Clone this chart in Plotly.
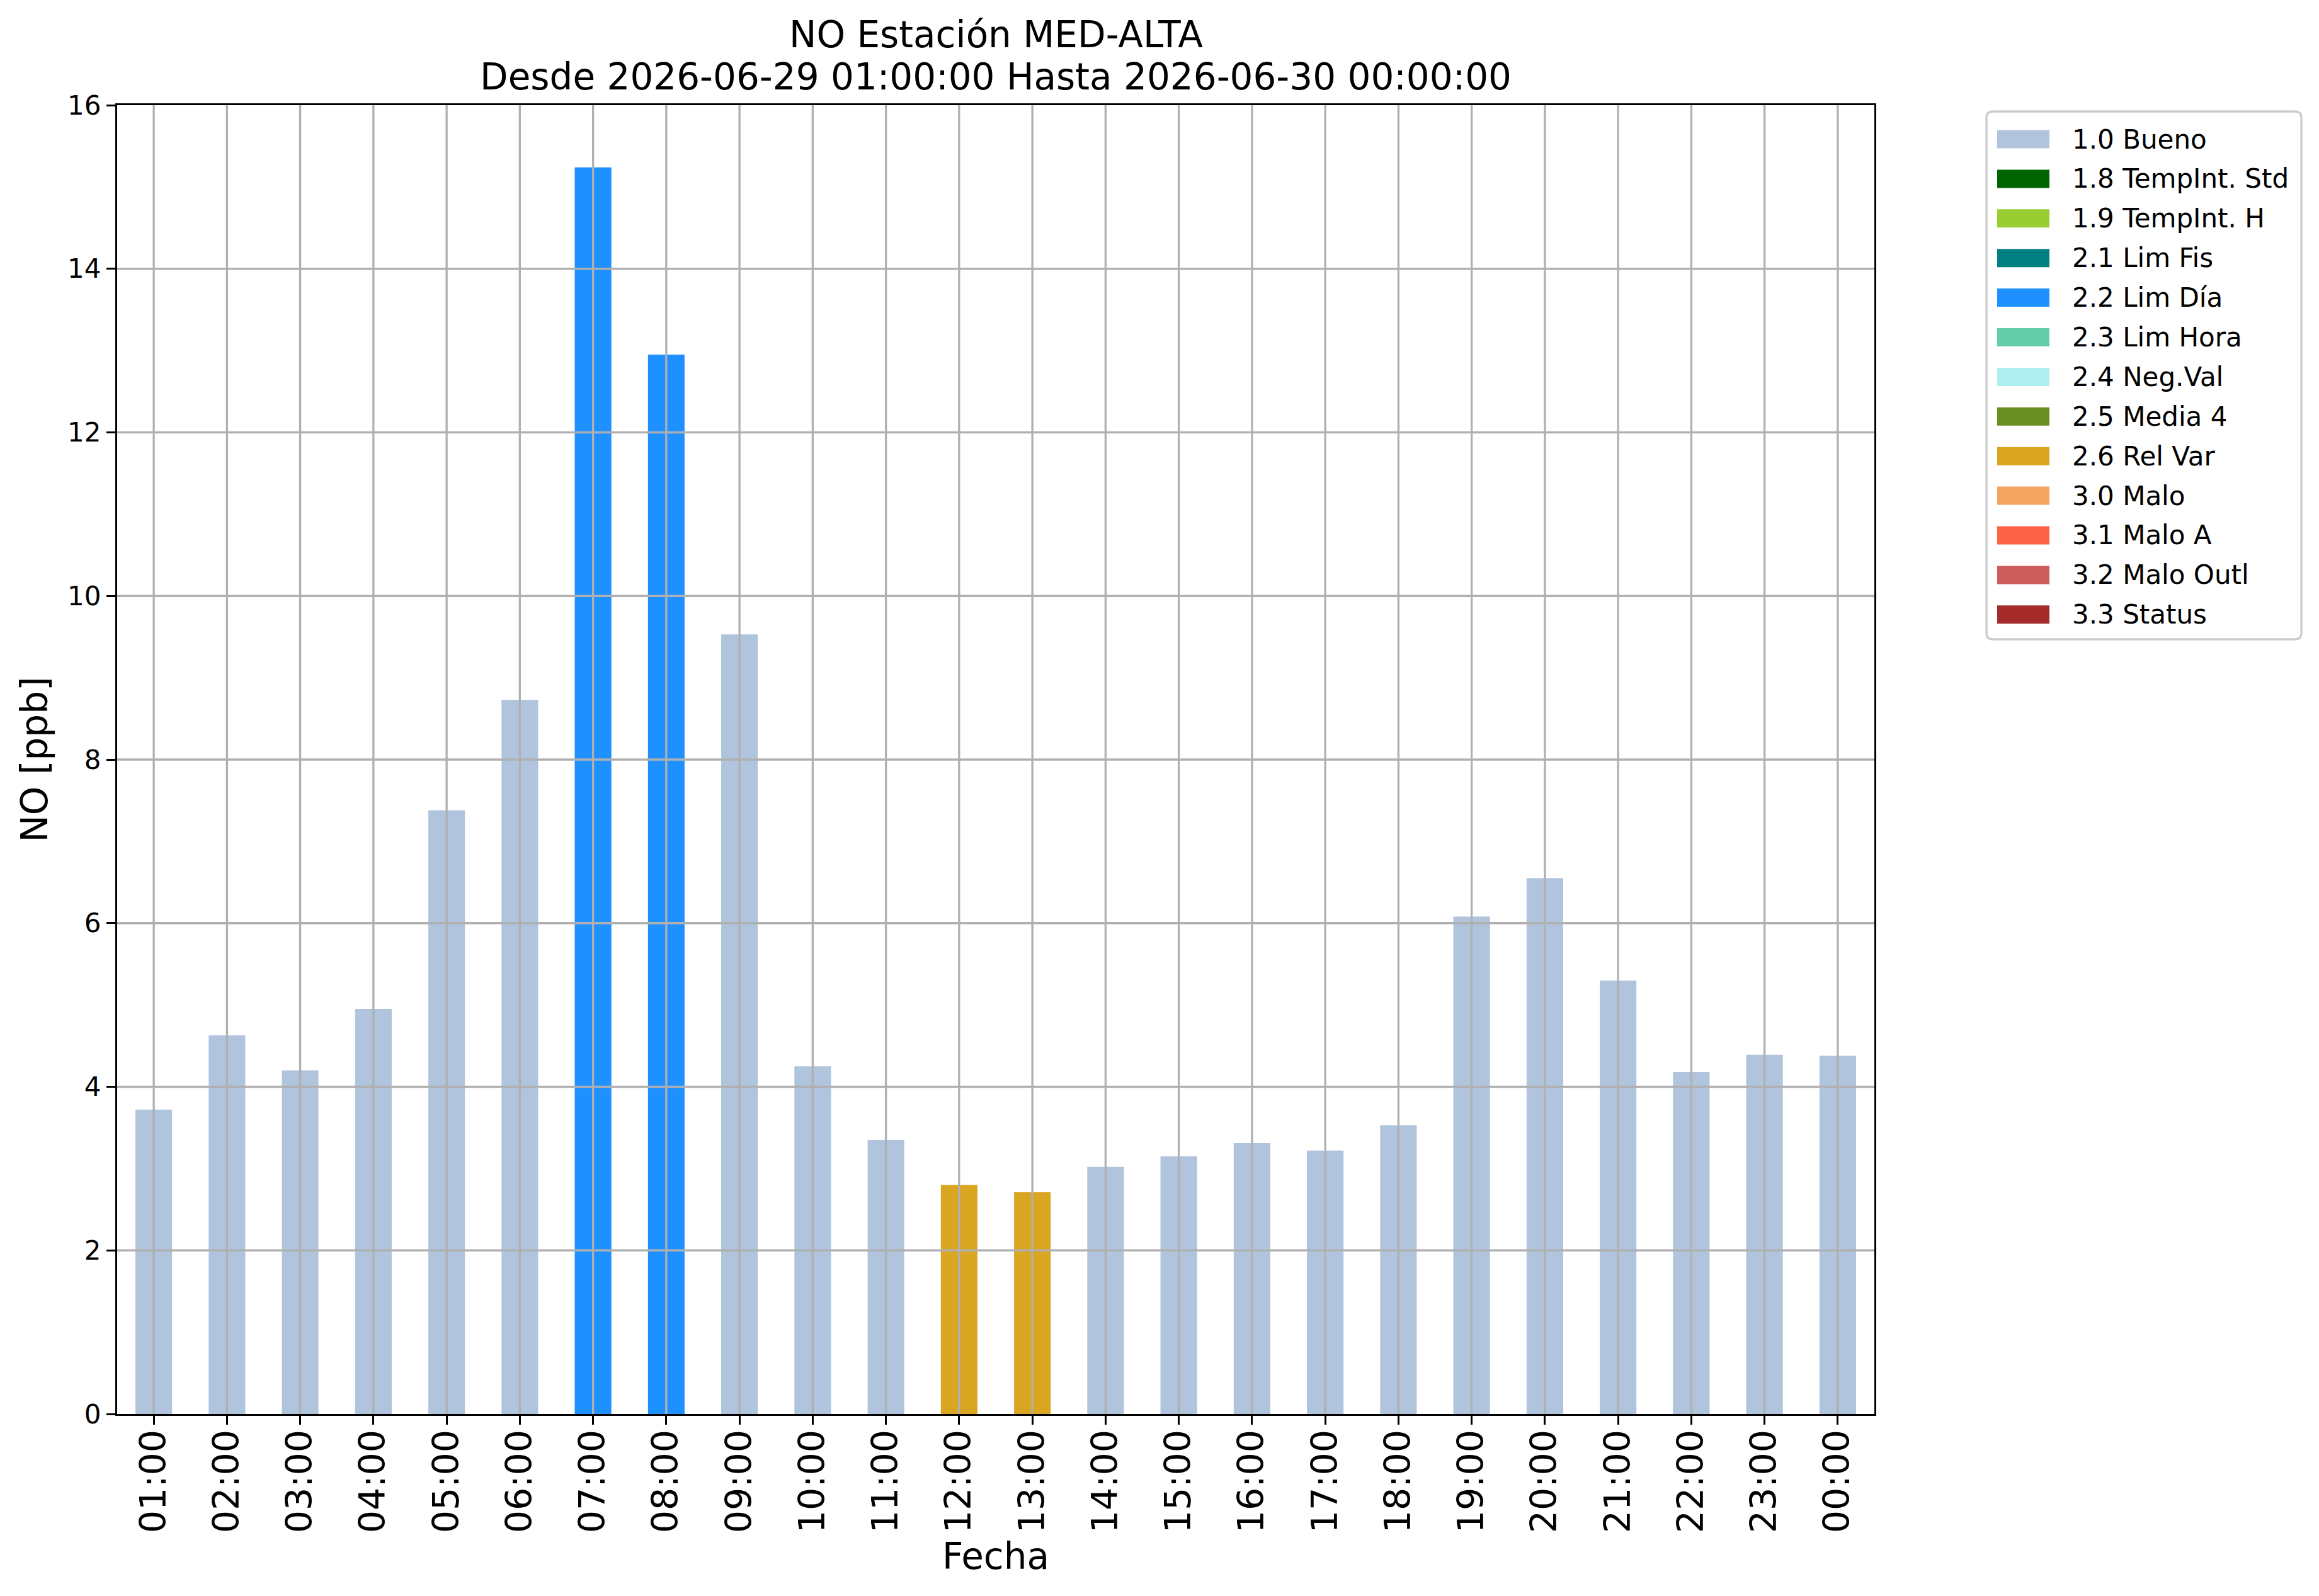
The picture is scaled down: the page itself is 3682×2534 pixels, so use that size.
import plotly.graph_objects as go

# hourly NO values, 2026-06-29 01:00 .. 2026-06-30 00:00
hours = ["01:00", "02:00", "03:00", "04:00", "05:00", "06:00", "07:00", "08:00",
         "09:00", "10:00", "11:00", "12:00", "13:00", "14:00", "15:00", "16:00",
         "17:00", "18:00", "19:00", "20:00", "21:00", "22:00", "23:00", "00:00"]
values = [3.72, 4.63, 4.20, 4.95, 7.38, 8.73, 15.24, 12.95,
          9.53, 4.25, 3.35, 2.80, 2.71, 3.02, 3.15, 3.31,
          3.22, 3.53, 6.08, 6.55, 5.30, 4.18, 4.39, 4.38]
flags = ["1.0 Bueno"] * 6 + ["2.2 Lim Día"] * 2 + ["1.0 Bueno"] * 3 + \
        ["2.6 Rel Var"] * 2 + ["1.0 Bueno"] * 11

categories = ["1.0 Bueno", "1.8 TempInt. Std", "1.9 TempInt. H", "2.1 Lim Fis",
              "2.2 Lim Día", "2.3 Lim Hora", "2.4 Neg.Val", "2.5 Media 4",
              "2.6 Rel Var", "3.0 Malo", "3.1 Malo A", "3.2 Malo Outl", "3.3 Status"]
colors = ["#B0C4DE", "#006400", "#9ACD32", "#008080", "#1E90FF", "#66CDAA",
          "#AFEEEE", "#6B8E23", "#DAA520", "#F4A460", "#FF6347", "#CD5C5C", "#A52A2A"]

yticks = [0, 2, 4, 6, 8, 10, 12, 14, 16]
title_lines = ["NO Estación MED-ALTA",
               "Desde 2026-06-29 01:00:00 Hasta 2026-06-30 00:00:00"]

OFF = 8                             # default body margin of the html page
W, H = 3682 - 2 * OFF, 2534 - 2 * OFF
L, R, T, B = 186, 2976, 167, 2245   # plot area on screen, px
FONT = "DejaVu Sans"
GRID = "#b0b0b0"


def px(x):
    return (x - L) / (R - L)


def py(y):
    return (B - y) / (B - T)


fig = go.Figure()
for cat, col in zip(categories, colors):
    ys = [v if f == cat else None for v, f in zip(values, flags)]
    if all(v is None for v in ys):
        continue
    fig.add_trace(go.Bar(x=hours, y=ys, name=cat, marker_color=col,
                         marker_line_width=0, width=0.5, showlegend=False))

shapes = []
# grid drawn over the bars like matplotlib
for h in hours:
    shapes.append(dict(type="line", layer="above", xref="x", yref="y",
                       x0=h, x1=h, y0=yticks[0], y1=yticks[-1],
                       line=dict(color=GRID, width=3.3)))
for t in yticks[1:-1]:
    shapes.append(dict(type="line", layer="above", xref="paper", yref="y",
                       x0=0, x1=1, y0=t, y1=t,
                       line=dict(color=GRID, width=3.3)))

# legend box (manual, to get matplotlib-like wide patches)
bx0, bx1, by0, by1, rr = 3154, 3654, 177, 1015, 10
path = (f"M{px(bx0 + rr)},{py(by0)} L{px(bx1 - rr)},{py(by0)} "
        f"Q{px(bx1)},{py(by0)} {px(bx1)},{py(by0 + rr)} "
        f"L{px(bx1)},{py(by1 - rr)} Q{px(bx1)},{py(by1)} {px(bx1 - rr)},{py(by1)} "
        f"L{px(bx0 + rr)},{py(by1)} Q{px(bx0)},{py(by1)} {px(bx0)},{py(by1 - rr)} "
        f"L{px(bx0)},{py(by0 + rr)} Q{px(bx0)},{py(by0)} {px(bx0 + rr)},{py(by0)} Z")
shapes.append(dict(type="path", layer="above", xref="paper", yref="paper",
                   path=path, line=dict(color="#cccccc", width=3.3),
                   fillcolor="rgba(255,255,255,0.8)"))
annotations = []
for i, (cat, col) in enumerate(zip(categories, colors)):
    yc = 221 + i * 62.9
    shapes.append(dict(type="rect", layer="above", xref="paper", yref="paper",
                       x0=px(3171), x1=px(3254), y0=py(yc - 14.5), y1=py(yc + 14.5),
                       fillcolor=col, line_width=0))
    annotations.append(dict(text=cat, xref="paper", yref="paper", x=px(3288), y=py(yc),
                            xanchor="left", yanchor="middle", showarrow=False,
                            font=dict(size=42, color="black", family=FONT)))

# two-line title, one annotation per line
for line, yc in zip(title_lines, [55, 122]):
    annotations.append(dict(text=line, xref="paper", yref="paper", x=0.5, y=py(yc),
                            xanchor="center", yanchor="middle", showarrow=False,
                            font=dict(size=58, color="black", family=FONT)))

fig.update_layout(
    width=W, height=H,
    margin=dict(l=L - OFF, r=W - (R - OFF), t=T - OFF, b=H - (B - OFF), pad=0),
    paper_bgcolor="white", plot_bgcolor="white",
    font=dict(family=FONT, color="black"),
    barmode="overlay", showlegend=False,
    shapes=shapes, annotations=annotations,
)
fig.update_xaxes(type="category", range=[-0.5, len(hours) - 0.5],
                 tickangle=-90, tickfont=dict(size=57), ticklabelstandoff=-15,
                 ticks="outside", ticklen=14, tickwidth=3.3, tickcolor="black",
                 showline=True, linecolor="black", linewidth=3.3, mirror=True,
                 showgrid=False, zeroline=False,
                 title=dict(text="Fecha", font=dict(size=58), standoff=18))
fig.update_yaxes(range=[yticks[0], yticks[-1]], tickvals=yticks, tickfont=dict(size=42),
                 ticks="outside", ticklen=14, tickwidth=3.3, tickcolor="black",
                 showline=True, linecolor="black", linewidth=3.3, mirror=True,
                 showgrid=False, zeroline=False,
                 title=dict(text="NO [ppb]", font=dict(size=58), standoff=13))

fig.write_html("out.html")
